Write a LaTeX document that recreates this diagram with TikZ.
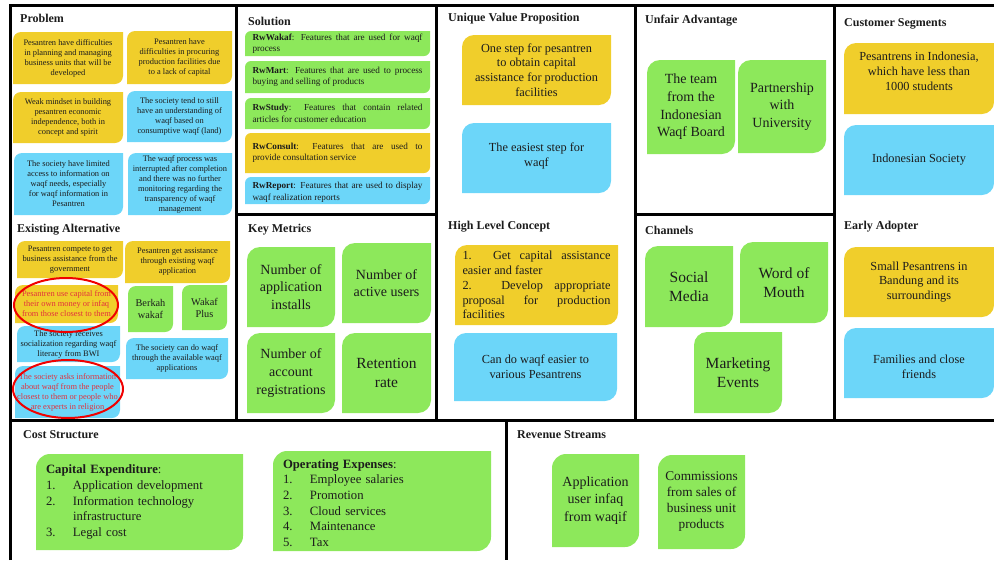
\documentclass[tikz,border=0pt]{standalone}
\usepackage{fontspec}
\setmainfont{Liberation Serif}

\definecolor{cardyellow}{HTML}{F0CE2B}
\definecolor{cardblue}{HTML}{6CD6F9}
\definecolor{cardgreen}{HTML}{8DE85B}
\definecolor{inkdark}{HTML}{1C1C1C}
\definecolor{inkred}{HTML}{E2303C}
\definecolor{ringred}{HTML}{F00000}

\tikzset{
  gridline/.style={line width=3pt, black},
  head/.style={anchor=west, inner sep=0pt, text=inkdark, font=\bfseries\fontsize{12}{14}\selectfont},
  tinytext/.style={inner sep=0pt, align=center, text=inkdark, font=\fontsize{8.4}{10}\selectfont},
  wakaftext/.style={inner sep=0pt, align=center, text=inkdark, font=\fontsize{10.3}{12}\selectfont},
  feattext/.style={inner sep=0pt, align=justify, text width=170pt, text=inkdark, font=\fontsize{9.2}{11.5}\selectfont},
  midtext/.style={inner sep=0pt, align=center, text=inkdark, font=\fontsize{12.3}{14.8}\selectfont},
  bigtext/.style={inner sep=0pt, align=center, text=inkdark, font=\fontsize{14}{17.6}\selectfont},
  hugetext/.style={inner sep=0pt, align=center, text=inkdark, font=\fontsize{15.5}{19.6}\selectfont},
  revtext/.style={inner sep=0pt, align=center, text=inkdark, font=\fontsize{13.3}{16}\selectfont},
  listtext/.style={inner sep=0pt, align=left, text=inkdark, font=\fontsize{12.7}{15.7}\selectfont},
  ring/.style={draw=ringred, line width=2pt},
}

% card: rounded top-left and bottom-right corners
% [radius]{name}{colour}{x1}{y1}{x2}{y2}{text style}{text}
\newcommand{\card}[9][8]{%
  \fill[#3, rounded corners=#1pt] (#4,#5) rectangle (#6,#7);
  \fill[#3] (#6-#1,#5) rectangle (#6,#5+#1) (#4,#7-#1) rectangle (#4+#1,#7);
  \node[#8] (#2) at ({(#4+#6)/2},{(#5+#7)/2}) {#9};}
\newcommand{\num}[1]{\makebox[27pt][l]{#1}}

\begin{document}
\begin{tikzpicture}[x=1pt,y=-1pt]
  \useasboundingbox (0,0) rectangle (994,560);

  % canvas grid
  \draw[gridline] (10,560) -- (10,5) -- (994,5);
  \draw[gridline] (10,420) -- (994,420);
  \draw[gridline] (236,5) -- (236,420);
  \draw[gridline] (436,5) -- (436,420);
  \draw[gridline] (635,5) -- (635,420);
  \draw[gridline] (834,5) -- (834,420);
  \draw[gridline] (236,214) -- (436,214);
  \draw[gridline] (635,214) -- (834,214);
  \draw[gridline] (506,420) -- (506,560);

  % headings
  \node[head] (hprob) at (20,18) {Problem};
  \node[head] (halt) at (17,230) {Existing Alternative};
  \node[head] (hsol) at (248,21) {Solution};
  \node[head] (hkey) at (248,230) {Key Metrics};
  \node[head] (huvp) at (448,19) {Unique Value Proposition};
  \node[head] (hhlc) at (448,227) {High Level Concept};
  \node[head] (hunf) at (645,21) {Unfair Advantage};
  \node[head] (hchan) at (645,230) {Channels};
  \node[head] (hcust) at (844,24) {Customer Segments};
  \node[head] (hearly) at (844,227) {Early Adopter};
  \node[head] (hcost) at (23,435) {Cost Structure};
  \node[head] (hrev) at (517,435) {Revenue Streams};

  % problem
  \card{prob1}{cardyellow}{13}{32}{123}{84}{tinytext}{Pesantren have difficulties\\in planning and managing\\business units that will be\\developed}
  \card{prob2}{cardyellow}{127}{31}{232}{84}{tinytext}{Pesantren have\\difficulties in procuring\\production facilities due\\to a lack of capital}
  \card{prob3}{cardyellow}{13}{92}{123}{143}{tinytext}{Weak mindset in building\\pesantren economic\\independence, both in\\concept and spirit}
  \card{prob4}{cardblue}{127}{91}{232}{142}{tinytext}{The society tend to still\\have an understanding of\\waqf based on\\consumptive waqf (land)}
  \card{prob5}{cardblue}{14}{153}{123}{215}{tinytext}{The society have limited\\access to information on\\waqf needs, especially\\for waqf information in\\Pesantren}
  \card{prob6}{cardblue}{128}{153}{232}{215}{tinytext}{The waqf process was\\interrupted after completion\\and there was no further\\monitoring regarding the\\transparency of waqf\\management}

  % existing alternative
  \card{alt1}{cardyellow}{17}{241}{123}{278}{tinytext}{Pesantren compete to get\\business assistance from the\\government}
  \card{alt2}{cardyellow}{125}{241}{230}{283}{tinytext}{Pesantren get assistance\\through existing waqf\\application}
  \card{alt3}{cardyellow}{15}{285}{118}{323}{tinytext,text=inkred}{Pesantren use capital from\\their own money or infaq\\from those closest to them}
  \card{alt4}{cardgreen}{128}{286}{173}{332}{wakaftext}{Berkah\\wakaf}
  \card{alt5}{cardgreen}{182}{285}{227}{330}{wakaftext}{Wakaf\\Plus}
  \card{alt6}{cardblue}{17}{326}{120}{362}{tinytext}{The society receives\\socialization regarding waqf\\literacy from BWI}
  \card{alt7}{cardblue}{126}{338}{228}{379}{tinytext}{The society can do waqf\\through the available waqf\\applications}
  \card{alt8}{cardblue}{15}{366}{120}{418}{tinytext,text=inkred}{The society asks information\\about waqf from the people\\closest to them or people who\\are experts in religion}
  \draw[ring] (66,305) ellipse [x radius=52, y radius=27];
  \draw[ring] (68,389) ellipse [x radius=55, y radius=29];

  % solution
  \card[6]{sol1}{cardgreen}{245}{31}{430}{56}{feattext}{\textbf{RwWakaf}: Features that are used for waqf\linebreak process}
  \card[6]{sol2}{cardgreen}{245}{61}{430}{93}{feattext}{\textbf{RwMart}: Features that are used to process\linebreak buying and selling of products}
  \card[6]{sol3}{cardgreen}{245}{98}{430}{129}{feattext}{\textbf{RwStudy}: Features that contain related\linebreak articles for customer education}
  \card[6]{sol4}{cardyellow}{245}{133}{430}{173}{feattext}{\textbf{RwConsult}: Features that are used to\linebreak provide consultation service}
  \card[6]{sol5}{cardblue}{245}{177}{430}{204}{feattext,yshift=-2pt}{\textbf{RwReport}: Features that are used to display\linebreak waqf realization reports}

  % key metrics
  \card[13]{key1}{cardgreen}{247}{247}{335}{327}{bigtext}{Number of\\application\\installs}
  \card[13]{key2}{cardgreen}{342}{243}{431}{323}{bigtext}{Number of\\active users}
  \card[13]{key3}{cardgreen}{247}{333}{335}{413}{bigtext}{Number of\\account\\registrations}
  \card[13]{key4}{cardgreen}{342}{333}{431}{413}{hugetext}{Retention\\rate}

  % unique value proposition and high level concept
  \card[12]{uvp1}{cardyellow}{462}{35}{611}{105}{midtext}{One step for pesantren\\to obtain capital\\assistance for production\\facilities}
  \card[12]{uvp2}{cardblue}{462}{123}{611}{193}{midtext,yshift=2pt}{The easiest step for\\waqf}
  \card[12]{hlc1}{cardyellow}{455}{245}{618}{325}{midtext,align=justify,text width=148pt}{1. Get capital assistance\linebreak easier and faster\newline 2. Develop appropriate\linebreak proposal for production\linebreak facilities}
  \card[12]{hlc2}{cardblue}{454}{333}{617}{401}{midtext}{Can do waqf easier to\\various Pesantrens}

  % unfair advantage and channels
  \card[13]{unf1}{cardgreen}{647}{60}{735}{154}{bigtext}{The team\\from the\\Indonesian\\Waqf Board}
  \card[13]{unf2}{cardgreen}{738}{60}{826}{153}{bigtext}{Partnership\\with\\University}
  \card[13]{chan1}{cardgreen}{645}{246}{733}{327}{hugetext}{Social\\Media}
  \card[13]{chan2}{cardgreen}{740}{242}{828}{323}{hugetext}{Word of\\Mouth}
  \card[13]{chan3}{cardgreen}{694}{332}{782}{413}{hugetext}{Marketing\\Events}

  % customer segments and early adopter
  \card[12]{cust1}{cardyellow}{844}{43}{994}{114}{midtext,yshift=7pt}{Pesantrens in Indonesia,\\which have less than\\1000 students}
  \card[12]{cust2}{cardblue}{844}{125}{994}{195}{midtext}{Indonesian Society}
  \card[12]{early1}{cardyellow}{844}{247}{994}{317}{midtext}{Small Pesantrens in\\Bandung and its\\surroundings}
  \card[12]{early2}{cardblue}{844}{328}{994}{398}{midtext,yshift=-4pt}{Families and close\\friends}

  % cost structure
  \card[14]{capex}{cardgreen}{36}{454}{243}{550}{listtext,text width=187pt}{\textbf{Capital Expenditure}:\\\num{1.}Application development\\\num{2.}Information technology\\\num{}infrastructure\\\num{3.}Legal cost}
  \card[14]{opex}{cardgreen}{273}{451}{491}{551}{listtext,text width=198pt,yshift=-2pt}{\textbf{Operating Expenses}:\\\num{1.}Employee salaries\\\num{2.}Promotion\\\num{3.}Cloud services\\\num{4.}Maintenance\\\num{5.}Tax}

  % revenue streams
  \card[14]{rev1}{cardgreen}{552}{454}{639}{547}{bigtext}{Application\\user infaq\\from waqif}
  \card[14]{rev2}{cardgreen}{658}{455}{745}{549}{revtext}{Commissions\\from sales of\\business unit\\products}
\end{tikzpicture}
\end{document}
